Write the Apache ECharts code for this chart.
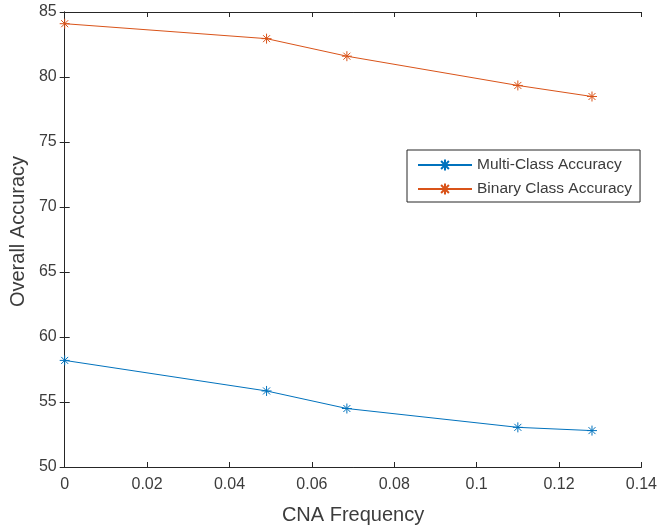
<!DOCTYPE html>
<html>
<head>
<meta charset="utf-8">
<script src="https://cdn.jsdelivr.net/npm/echarts@6/dist/echarts.min.js"></script>
<style>html,body{margin:0;padding:0;background:#fff}#c{width:660px;height:531px}</style>
</head>
<body>
<div id="c"></div>
<script>
const xValues = [0, 0.049, 0.0685, 0.110, 0.128];
const multiClass = [58.2, 55.85, 54.5, 53.05, 52.8];
const binaryClass = [84.1, 82.95, 81.6, 79.35, 78.5];
const seriesNames = ['Multi-Class Accuracy', 'Binary Class Accuracy'];
const xName = 'CNA Frequency';
const yName = 'Overall Accuracy';

const FONT = '"Liberation Sans", Arial, Helvetica, sans-serif';
const AX = '#262626';
const TX = '#3c3c3c';
const star = 'path://M5,0L5,10M0,5L10,5M1.5,1.5L8.5,8.5M1.5,8.5L8.5,1.5';

function pairs(ys) { return xValues.map((x, i) => [x, ys[i]]); }
function mk(name, ys, color) {
  return {
    name: name, type: 'line', data: pairs(ys),
    symbol: star, symbolSize: 10,
    lineStyle: { color: color, width: 1 },
    itemStyle: { color: color, borderColor: color, borderWidth: 1 },
    emphasis: { disabled: true }, animation: false
  };
}
const chart = echarts.init(document.getElementById('c'), null, { renderer: 'canvas' });
const xCommon = { type: 'value', min: 0, max: 0.14, interval: 0.02 };
const yCommon = { type: 'value', min: 50, max: 85, interval: 5 };
chart.setOption({
  animation: false,
  backgroundColor: '#fff',
  grid: { left: 64.5, right: 18.5, top: 12, bottom: 64, containLabel: false },
  xAxis: [
    Object.assign({}, xCommon, {
      position: 'bottom',
      name: xName, nameLocation: 'middle', nameGap: 38,
      nameTextStyle: { fontFamily: FONT, fontSize: 20, color: TX },
      axisLine: { show: true, lineStyle: { color: AX, width: 1 } },
      axisTick: { show: true, inside: true, length: 5, lineStyle: { color: AX } },
      axisLabel: { fontFamily: FONT, fontSize: 16, color: TX, margin: 10,
        formatter: v => String(+v.toFixed(2)) },
      splitLine: { show: false }
    }),
    Object.assign({}, xCommon, {
      position: 'top',
      axisLine: { show: true, lineStyle: { color: AX, width: 1 } },
      axisTick: { show: true, inside: true, length: 5, lineStyle: { color: AX } },
      axisLabel: { show: false }, splitLine: { show: false }
    })
  ],
  yAxis: [
    Object.assign({}, yCommon, {
      position: 'left',
      name: yName, nameLocation: 'middle', nameGap: 34,
      nameTextStyle: { fontFamily: FONT, fontSize: 20, color: TX, padding: [0, 0, 0, 16] },
      axisLine: { show: true, lineStyle: { color: AX, width: 1 } },
      axisTick: { show: true, inside: true, length: 5, lineStyle: { color: AX } },
      axisLabel: { fontFamily: FONT, fontSize: 16, color: TX, margin: 8 },
      splitLine: { show: false }
    }),
    Object.assign({}, yCommon, {
      position: 'right',
      axisLine: { show: true, lineStyle: { color: AX, width: 1 } },
      axisTick: { show: true, inside: true, length: 5, lineStyle: { color: AX } },
      axisLabel: { show: false }, splitLine: { show: false }
    })
  ],
  legend: {
    orient: 'vertical', left: 407, top: 150,
    data: seriesNames,
    backgroundColor: '#fff', borderColor: AX, borderWidth: 1, borderRadius: 0,
    padding: [7, 8, 5, 10],
    itemWidth: 54, itemHeight: 14, itemGap: 8,
    textStyle: { fontFamily: FONT, fontSize: 15.5, color: TX },
    selectedMode: false
  },
  series: [
    mk(seriesNames[0], multiClass, '#0072BD'),
    mk(seriesNames[1], binaryClass, '#D95319')
  ]
});
</script>
</body>
</html>
